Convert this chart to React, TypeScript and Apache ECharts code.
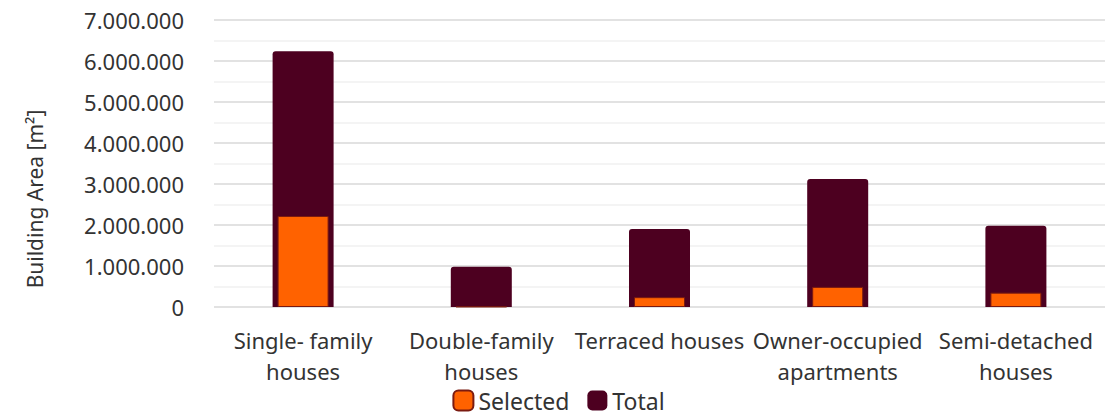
import React, { useEffect, useRef } from "react";
import * as echarts from "echarts";

const categories = [
  "Single- family\nhouses",
  "Double-family\nhouses",
  "Terraced houses",
  "Owner-occupied\napartments",
  "Semi-detached\nhouses",
];
const totalValues = [6240000, 980000, 1900000, 3120000, 1980000];
const selectedValues = [2220000, 10000, 240000, 490000, 350000];
const yTicks = [0, 1000000, 2000000, 3000000, 4000000, 5000000, 6000000, 7000000];

const FONT = "'Noto Sans', sans-serif";
const TEXT = "#333333";

function fmt(v: number): string {
  return String(Math.round(v)).replace(/\B(?=(\d{3})+(?!\d))/g, ".");
}

export default function App() {
  const ref = useRef<HTMLDivElement>(null);
  useEffect(() => {
    if (!ref.current) return;
    const chart = echarts.init(ref.current, undefined, { renderer: "svg" });
    chart.setOption({
      animation: false,
      textStyle: { fontFamily: FONT },
      grid: { left: 214, right: 12, top: 20, bottom: 112, containLabel: false },
      legend: {
        bottom: 2,
        left: "center",
        itemWidth: 20,
        itemHeight: 20,
        itemGap: 18,
        icon: "roundRect",
        textStyle: { fontFamily: FONT, fontSize: 23, color: TEXT },
        data: ["Selected", "Total"],
      },
      graphic: [
        {
          type: "text",
          x: 35,
          y: 199,
          rotation: Math.PI / 2,
          style: {
            text: "Building Area [m²]",
            fontFamily: FONT,
            fontSize: 21,
            fill: TEXT,
            align: "center",
            verticalAlign: "middle",
          },
        },
      ],
      xAxis: [
        {
          type: "category",
          data: categories,
          axisLine: { show: false },
          axisTick: { show: false },
          axisLabel: {
            fontFamily: FONT,
            fontSize: 22,
            color: TEXT,
            margin: 17,
            lineHeight: 31,
            interval: 0,
          },
        },
        {
          type: "category",
          data: categories,
          show: false,
        },
      ],
      yAxis: {
        type: "value",
        min: 0,
        max: 7000000,
        interval: 1000000,
        axisLine: { show: false },
        axisTick: { show: false },
        axisLabel: {
          fontFamily: FONT,
          fontSize: 22,
          color: TEXT,
          margin: 30,
          formatter: (v: number) => (yTicks.includes(v) ? fmt(v) : ""),
        },
        splitLine: { lineStyle: { color: "#d9d9d9", width: 1.5 } },
        minorTick: { show: false, splitNumber: 2 },
        minorSplitLine: { show: true, lineStyle: { color: "#f0f0f0", width: 1.5 } },
      },
      series: [
        {
          name: "Total",
          type: "bar",
          xAxisIndex: 0,
          data: totalValues,
          barWidth: 61,
          itemStyle: { color: "#4D0020", borderRadius: [3, 3, 0, 0] },
          z: 1,
        },
        {
          name: "Selected",
          type: "bar",
          xAxisIndex: 1,
          data: selectedValues,
          barWidth: 51,
          itemStyle: { color: "#FF6200", borderColor: "#7a1a10", borderWidth: 1 },
          z: 2,
        },
      ],
    });
    return () => chart.dispose();
  }, []);
  return (
    <div
      ref={ref}
      style={{ position: "absolute", left: 0, top: 0, width: 1117, height: 419 }}
    />
  );
}
